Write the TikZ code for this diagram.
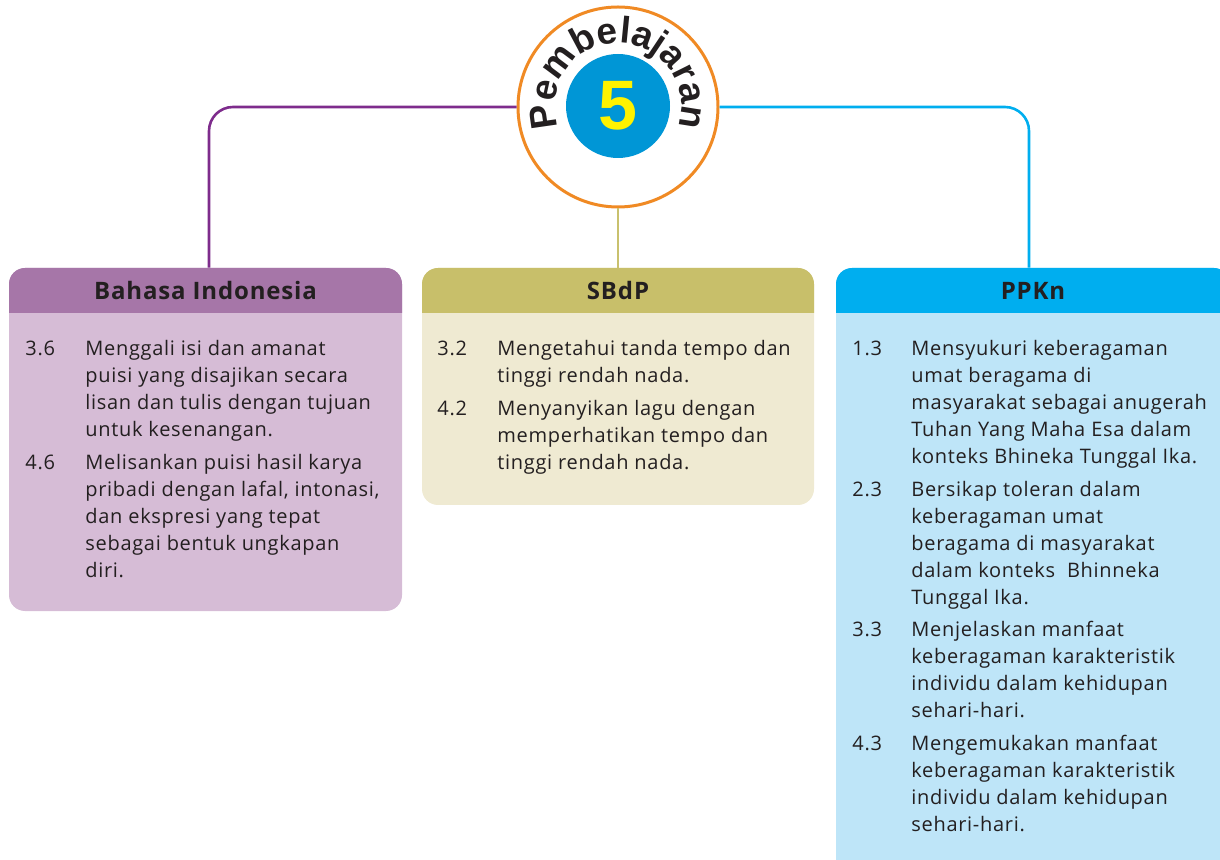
\documentclass[tikz,border=0pt]{standalone}
\usepackage{fontspec}
\setmainfont{Open Sans}[LetterSpace=3.5]
\newfontfamily\arcfont{Liberation Sans}
\usetikzlibrary{decorations.text,calc}
\definecolor{ink}{HTML}{231F20}
\definecolor{ringor}{HTML}{F08A24}
\definecolor{discblue}{HTML}{0096D6}
\definecolor{fiveyel}{HTML}{FFF200}
\definecolor{purpline}{HTML}{7E2C8C}
\definecolor{purphdr}{HTML}{A676A8}
\definecolor{purpbody}{HTML}{D6BCD6}
\definecolor{oliveline}{HTML}{C9C16E}
\definecolor{olivehdr}{HTML}{C8BF6A}
\definecolor{olivebody}{HTML}{EFEAD2}
\definecolor{cyanline}{HTML}{00AEEF}
\definecolor{cyanhdr}{HTML}{00AEEF}
\definecolor{cyanbody}{HTML}{BEE5F8}
\tikzset{
  hdrtext/.style={inner sep=0, text=ink, font=\bfseries\fontsize{12}{15}\selectfont, minimum height=22.5pt},
  bodytext/.style={anchor=base west, inner sep=0, text=ink, font=\fontsize{10}{13.5}\selectfont},
  conn/.style={line width=1.3pt, rounded corners=12pt},
}
\begin{document}
\begin{tikzpicture}[x=0.5pt,y=0.5pt]
\useasboundingbox (0,0) rectangle (1220,-860);
\clip (0,0) rectangle (1220,-860);
% left box
\fill[purpbody, rounded corners=8pt] (9,-268) rectangle (402,-611);
\begin{scope}
  \clip (0,-260) rectangle (410,-313);
  \fill[purphdr, rounded corners=8pt] (9,-268) rectangle (402,-611);
\end{scope}
\node[hdrtext, minimum width=196.5pt] (h1) at (205.5,-290.5) {Bahasa Indonesia};
% middle box
\fill[olivebody, rounded corners=8pt] (422,-268) rectangle (814,-505);
\begin{scope}
  \clip (415,-260) rectangle (820,-313);
  \fill[olivehdr, rounded corners=8pt] (422,-268) rectangle (814,-505);
\end{scope}
\node[hdrtext, minimum width=196pt] (h2) at (618,-290.5) {SBdP};
% right box
\fill[cyanbody, rounded corners=8pt] (836,-268) rectangle (1230,-875);
\begin{scope}
  \clip (830,-260) rectangle (1240,-313);
  \fill[cyanhdr, rounded corners=8pt] (836,-268) rectangle (1230,-875);
\end{scope}
\node[hdrtext, minimum width=197pt] (h3) at (1033,-290.5) {PPKn};
% centre badge
\node[circle, draw=ringor, line width=1.5pt, fill=white, minimum size=100pt, inner sep=0] (c) at (618,-107) {};
\node[circle, fill=discblue, minimum size=52pt, inner sep=0, text=fiveyel, font=\arcfont\bfseries\fontsize{35}{35}\selectfont] (n5) at (618,-106) {5};
\path[decorate, decoration={text along path, text align=center,
  text={|\arcfont\bfseries\fontsize{18.5}{18.5}\selectfont\color{ink}|Pembelajaran}}]
  ($(618,-106)+(225:31.5pt)$) arc[start angle=225, end angle=-45, radius=31.5pt];
% connectors
\draw[conn, purpline] (c.west) -| ([xshift=1.75pt]h1.north);
\draw[conn, oliveline] (c.south) -- (h2.north);
\draw[conn, cyanline] (c.east) -| ([xshift=-2pt]h3.north);
% body texts
\node[bodytext] (t1) at (25,-356) {\begin{tabular}[t]{@{}p{30pt}@{}l@{}}
3.6 & Menggali isi dan amanat\\
 & puisi yang disajikan secara\\
 & lisan dan tulis dengan tujuan\\
 & untuk kesenangan.\\[2.75pt]
4.6 & Melisankan puisi hasil karya\\
 & pribadi dengan lafal, intonasi,\\
 & dan ekspresi yang tepat\\
 & sebagai bentuk ungkapan\\
 & diri.
\end{tabular}};
\node[bodytext] (t2) at (437,-356) {\begin{tabular}[t]{@{}p{30pt}@{}l@{}}
3.2 & Mengetahui tanda tempo dan\\
 & tinggi rendah nada.\\[2.75pt]
4.2 & Menyanyikan lagu dengan\\
 & memperhatikan tempo dan\\
 & tinggi rendah nada.
\end{tabular}};
\node[bodytext] (t3) at (852,-356) {\begin{tabular}[t]{@{}p{29.5pt}@{}l@{}}
1.3 & Mensyukuri keberagaman\\
 & umat beragama di\\
 & masyarakat sebagai anugerah\\
 & Tuhan Yang Maha Esa dalam\\
 & konteks Bhineka Tunggal Ika.\\[2.75pt]
2.3 & Bersikap toleran dalam\\
 & keberagaman umat\\
 & beragama di masyarakat\\
 & dalam konteks\ \ Bhinneka\\
 & Tunggal Ika.\\[2.75pt]
3.3 & Menjelaskan manfaat\\
 & keberagaman karakteristik\\
 & individu dalam kehidupan\\
 & sehari-hari.\\[2.75pt]
4.3 & Mengemukakan manfaat\\
 & keberagaman karakteristik\\
 & individu dalam kehidupan\\
 & sehari-hari.
\end{tabular}};
\end{tikzpicture}
\end{document}
